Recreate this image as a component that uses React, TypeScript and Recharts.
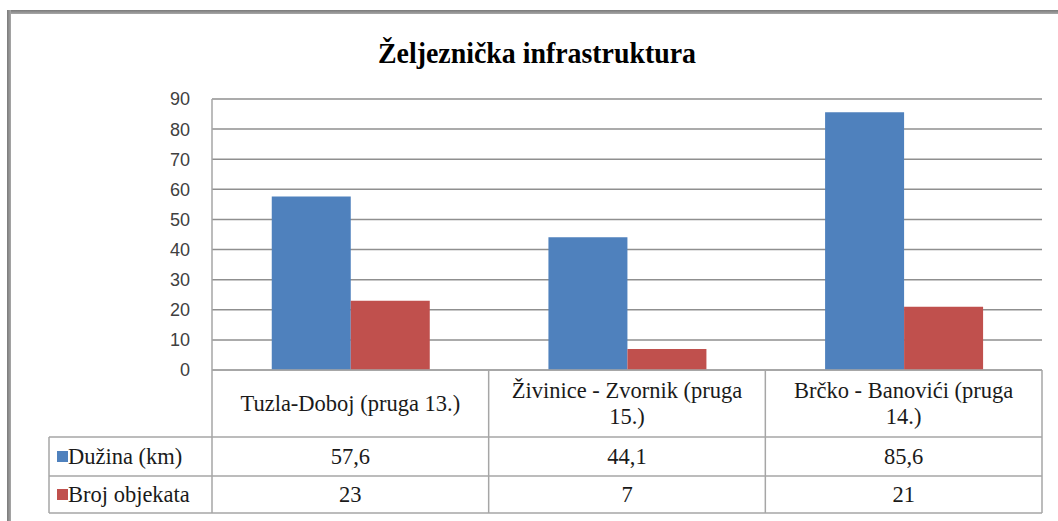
import React from "react";
import { BarChart, Bar, XAxis, YAxis, CartesianGrid } from "recharts";

const categories = ["Tuzla-Doboj (pruga 13.)", "Živinice - Zvornik (pruga 15.)", "Brčko - Banovići (pruga 14.)"];
const categoryLines = [["Tuzla-Doboj (pruga 13.)"], ["Živinice - Zvornik (pruga", "15.)"], ["Brčko - Banovići (pruga", "14.)"]];
const duzina = [57.6, 44.1, 85.6];
const brojObjekata = [23, 7, 21];
const seriesNames = ["Dužina (km)", "Broj objekata"];
const seriesColors = ["#4F81BD", "#C0504D"];
const yTicks = [0, 10, 20, 30, 40, 50, 60, 70, 80, 90];
const title = "Željeznička infrastruktura";

const data = categories.map((name, i) => ({ name, idx: i, duzina: duzina[i], broj: brojObjekata[i] }));
const seriesValues = [duzina, brojObjekata];

const W = 1058;
const H = 521;
const PL = 212;
const PR = 1042;
const PT = 99;
const PB = 370;
const ROW1 = 437;
const ROW2 = 476;
const ROW3 = 513;
const LEG_L = 49;
const CELL_W = (PR - PL) / categories.length;
const TABLE_LINE = "#a6a6a6";
const serifStyle: React.CSSProperties = { fontFamily: "'Liberation Serif', 'Times New Roman', serif", fontSize: 22.5 };

const fmt = (v: number) => String(v).replace(".", ",");

const CellTick = (props: any) => {
  const { payload, index } = props;
  const i = typeof index === "number" ? index : payload.index;
  const cx = PL + CELL_W * i + CELL_W / 2;
  const right = PL + CELL_W * (i + 1);
  const lines = categoryLines[i] || [payload.value];
  const headerMid = (PB + ROW1) / 2;
  const lh = 26;
  return (
    <g>
      <line x1={right} x2={right} y1={PB} y2={ROW3} stroke={TABLE_LINE} strokeWidth={1.5} />
      {lines.map((t, k) => (
        <text
          key={k}
          x={cx}
          y={headerMid + (k - (lines.length - 1) / 2) * lh}
          textAnchor="middle"
          dominantBaseline="central"
          style={serifStyle}
          fill="#1a1a1a"
        >
          {t}
        </text>
      ))}
      {seriesValues.map((vals, s) => (
        <text
          key={"v" + s}
          x={cx}
          y={s === 0 ? (ROW1 + ROW2) / 2 : (ROW2 + ROW3) / 2}
          textAnchor="middle"
          dominantBaseline="central"
          style={serifStyle}
          fill="#1a1a1a"
        >
          {fmt(vals[i])}
        </text>
      ))}
    </g>
  );
};

export default function App() {
  return (
    <div style={{ position: "absolute", left: 0, top: 0, width: W, height: H, background: "#fff" }}>
      <div style={{ position: "absolute", left: 7, top: 10, width: W - 7, height: 4, background: "linear-gradient(#7a7a7a,#a8a8a8)" }} />
      <div style={{ position: "absolute", left: 7, top: 10, width: 4, height: H - 10, background: "linear-gradient(90deg,#7a7a7a,#a8a8a8)" }} />
      <BarChart
        width={W}
        height={H}
        data={data}
        margin={{ top: PT, right: W - PR, left: PL - 50, bottom: 0 }}
        barCategoryGap="21.6%"
        barGap={0}
        style={{ position: "absolute", left: 0, top: 0 }}
      >
        <CartesianGrid horizontal vertical={false} stroke="#8f8f8f" strokeWidth={1.5} />
        <YAxis
          width={50}
          domain={[0, 90]}
          ticks={yTicks}
          interval={0}
          axisLine={{ stroke: TABLE_LINE, strokeWidth: 1.5 }}
          tickLine={false}
          tickSize={0}
          tickMargin={22}
          tick={{ fill: "#404040", fontSize: 18, fontFamily: "Liberation Sans, Arial, sans-serif" }}
        />
        <XAxis
          dataKey="name"
          height={H - PB}
          interval={0}
          axisLine={{ stroke: TABLE_LINE, strokeWidth: 1.5 }}
          tickLine={false}
          tick={<CellTick />}
        />
        <Bar dataKey="duzina" name={seriesNames[0]} fill={seriesColors[0]} isAnimationActive={false} />
        <Bar dataKey="broj" name={seriesNames[1]} fill={seriesColors[1]} isAnimationActive={false} />
      </BarChart>
      <svg width={W} height={H} style={{ position: "absolute", left: 0, top: 0, pointerEvents: "none" }}>
        <text
          x={537}
          y={52}
          textAnchor="middle"
          dominantBaseline="central"
          style={{ fontFamily: "'Liberation Serif', serif", fontWeight: "bold", fontSize: 30 }}
          textLength={318}
          lengthAdjust="spacingAndGlyphs"
          fill="#000"
        >
          {title}
        </text>
        <line x1={PL} x2={PL} y1={PB} y2={ROW3} stroke={TABLE_LINE} strokeWidth={1.5} />
        <line x1={LEG_L} x2={LEG_L} y1={ROW1} y2={ROW3} stroke={TABLE_LINE} strokeWidth={1.5} />
        {[ROW1, ROW2, ROW3].map((y) => (
          <line key={y} x1={LEG_L} x2={PR} y1={y} y2={y} stroke={TABLE_LINE} strokeWidth={1.5} />
        ))}
        {seriesNames.map((n, s) => {
          const cy = s === 0 ? (ROW1 + ROW2) / 2 : (ROW2 + ROW3) / 2;
          return (
            <g key={n}>
              <rect x={57} y={cy - 5.5} width={11} height={11} fill={seriesColors[s]} />
              <text x={68} y={cy} dominantBaseline="central" style={serifStyle} fill="#1a1a1a">
                {n}
              </text>
            </g>
          );
        })}
      </svg>
    </div>
  );
}
